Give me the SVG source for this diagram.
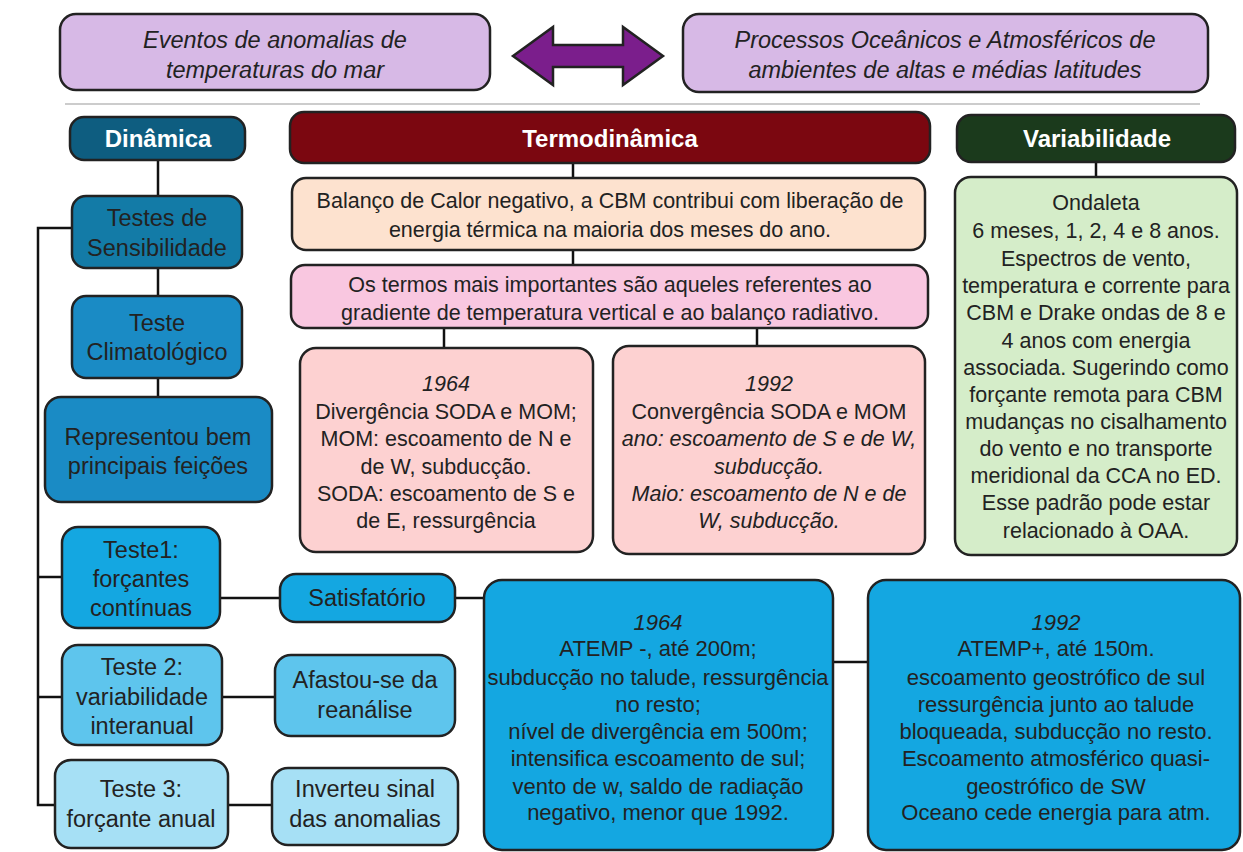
<svg xmlns="http://www.w3.org/2000/svg" width="1243" height="852" viewBox="0 0 1243 852">
<style>
.b{stroke:#222;stroke-width:2.5}
.t{font-family:"Liberation Sans",Arial,sans-serif;font-size:21.5px;fill:#222;text-anchor:middle}
.l{font-size:23.5px}
.k{font-size:22px}
.top{font-size:23.5px}
.i{font-style:italic}
.h{font-family:"Liberation Sans",Arial,sans-serif;font-size:24px;font-weight:bold;fill:#fff;text-anchor:middle}
.c{stroke:#111;stroke-width:2.5;fill:none}
</style>
<rect width="1243" height="852" fill="#fff"/>
<g id="connectors">
<line class="c" x1="65" y1="104" x2="1200" y2="104" style="stroke:#bbb;stroke-width:1.5"/>
<line class="c" x1="158" y1="160" x2="158" y2="196"/>
<line class="c" x1="158" y1="268" x2="158" y2="296"/>
<line class="c" x1="158" y1="378" x2="158" y2="397"/>
<polyline class="c" points="72,228 38,228 38,805 55,805"/>
<line class="c" x1="38" y1="577" x2="62" y2="577"/>
<line class="c" x1="38" y1="697" x2="62" y2="697"/>
<line class="c" x1="220" y1="598" x2="280" y2="598"/>
<line class="c" x1="455" y1="598" x2="485" y2="598"/>
<line class="c" x1="222" y1="697" x2="275" y2="697"/>
<line class="c" x1="228" y1="805" x2="272" y2="805"/>
<line class="c" x1="833" y1="662" x2="868" y2="662"/>
<line class="c" x1="573" y1="163" x2="573" y2="178"/>
<line class="c" x1="573" y1="250" x2="573" y2="265"/>
<line class="c" x1="444" y1="328" x2="444" y2="348"/>
<line class="c" x1="757" y1="328" x2="757" y2="347"/>
<line class="c" x1="1096" y1="162" x2="1096" y2="177"/>
</g>
<g id="n-eventos">
<rect class="b" x="60" y="14" width="430" height="76" rx="16" fill="#d7b9e6"/>
<text class="t top i" x="275" y="48">Eventos de anomalias de</text>
<text class="t top i" x="275" y="78">temperaturas do mar</text>
</g>
<g id="n-arrow">
<polygon class="b" points="513,56 553,27 553,45 623,45 623,27 663,56 623,85 623,67 553,67 553,85" fill="#7b1e8c" stroke-linejoin="miter"/>
</g>
<g id="n-processos">
<rect class="b" x="683" y="14" width="525" height="78" rx="16" fill="#d7b9e6"/>
<text class="t top i" x="945" y="48">Processos Oceânicos e Atmosféricos de</text>
<text class="t top i" x="945" y="78">ambientes de altas e médias latitudes</text>
</g>
<g id="n-dinamica">
<rect class="b" x="70" y="117" width="175" height="43" rx="14" fill="#0e5d80"/>
<text class="h" x="158" y="147">Dinâmica</text>
</g>
<g id="n-termo">
<rect class="b" x="290" y="112" width="640" height="51" rx="14" fill="#7b0710"/>
<text class="h" x="610" y="147">Termodinâmica</text>
</g>
<g id="n-var">
<rect class="b" x="957" y="115" width="278" height="47" rx="14" fill="#1b3a1c"/>
<text class="h" x="1097" y="147">Variabilidade</text>
</g>
<g id="n-sens">
<rect class="b" x="72" y="196" width="170" height="72" rx="14" fill="#137ba7"/>
<text class="t l" x="157" y="226">Testes de</text>
<text class="t l" x="157" y="256">Sensibilidade</text>
</g>
<g id="n-clim">
<rect class="b" x="72" y="296" width="170" height="82" rx="14" fill="#1a8bc5"/>
<text class="t l" x="157" y="331">Teste</text>
<text class="t l" x="157" y="360">Climatológico</text>
</g>
<g id="n-repr">
<rect class="b" x="45" y="397" width="227" height="105" rx="16" fill="#1a8bc5"/>
<text class="t l" x="158" y="445">Representou bem</text>
<text class="t l" x="158" y="474">principais feições</text>
</g>
<g id="n-t1">
<rect class="b" x="62" y="527" width="158" height="101" rx="16" fill="#14a7e1"/>
<text class="t l" x="141" y="558">Teste1:</text>
<text class="t l" x="141" y="587">forçantes</text>
<text class="t l" x="141" y="616">contínuas</text>
</g>
<g id="n-sat">
<rect class="b" x="280" y="574" width="175" height="48" rx="16" fill="#14a7e1"/>
<text class="t l" x="367" y="606">Satisfatório</text>
</g>
<g id="n-t2">
<rect class="b" x="62" y="645" width="160" height="100" rx="16" fill="#5ec5ed"/>
<text class="t l" x="142" y="675">Teste 2:</text>
<text class="t l" x="142" y="705">variabilidade</text>
<text class="t l" x="142" y="734">interanual</text>
</g>
<g id="n-afast">
<rect class="b" x="275" y="655" width="180" height="81" rx="16" fill="#5ec5ed"/>
<text class="t l" x="365" y="688">Afastou-se da</text>
<text class="t l" x="365" y="718">reanálise</text>
</g>
<g id="n-t3">
<rect class="b" x="55" y="760" width="173" height="88" rx="16" fill="#a6e0f5"/>
<text class="t l" x="141" y="797">Teste 3:</text>
<text class="t l" x="141" y="827">forçante anual</text>
</g>
<g id="n-inv">
<rect class="b" x="272" y="768" width="186" height="77" rx="16" fill="#a6e0f5"/>
<text class="t l" x="365" y="797">Inverteu sinal</text>
<text class="t l" x="365" y="827">das anomalias</text>
</g>
<g id="n-balanco">
<rect class="b" x="292" y="178" width="633" height="72" rx="14" fill="#fde2cf"/>
<text class="t" x="610" y="208">Balanço de Calor negativo, a CBM contribui com liberação de</text>
<text class="t" x="610" y="237">energia térmica na maioria dos meses do ano.</text>
</g>
<g id="n-termos">
<rect class="b" x="291" y="265" width="637" height="63" rx="14" fill="#f9c7e0"/>
<text class="t" x="610" y="292">Os termos mais importantes são aqueles referentes ao</text>
<text class="t" x="610" y="320">gradiente de temperatura vertical e ao balanço radiativo.</text>
</g>
<g id="n-m1964">
<rect class="b" x="300" y="348" width="293" height="204" rx="16" fill="#fdd1d1"/>
<text class="t i" x="446" y="391">1964</text>
<text class="t" x="446" y="419">Divergência SODA e MOM;</text>
<text class="t" x="446" y="446">MOM: escoamento de N e</text>
<text class="t" x="446" y="474">de W, subducção.</text>
<text class="t" x="446" y="501">SODA: escoamento de S e</text>
<text class="t" x="446" y="528">de E, ressurgência</text>
</g>
<g id="n-m1992">
<rect class="b" x="613" y="346" width="312" height="208" rx="16" fill="#fdd1d1"/>
<text class="t i" x="769" y="391">1992</text>
<text class="t" x="769" y="419">Convergência SODA e MOM</text>
<text class="t i" x="769" y="446">ano: escoamento de S e de W,</text>
<text class="t i" x="769" y="474">subducção.</text>
<text class="t i" x="769" y="501">Maio: escoamento de N e de</text>
<text class="t i" x="769" y="528">W, subducção.</text>
</g>
<g id="n-ondaleta">
<rect class="b" x="955" y="177" width="282" height="378" rx="16" fill="#d5edc9"/>
<text class="t" x="1096" y="210">Ondaleta</text>
<text class="t" x="1096" y="238">6 meses, 1, 2, 4 e 8 anos.</text>
<text class="t" x="1096" y="266">Espectros de vento,</text>
<text class="t" x="1096" y="293">temperatura e corrente para</text>
<text class="t" x="1096" y="320">CBM e Drake ondas de 8 e</text>
<text class="t" x="1096" y="348">4 anos com energia</text>
<text class="t" x="1096" y="375">associada. Sugerindo como</text>
<text class="t" x="1096" y="402">forçante remota para CBM</text>
<text class="t" x="1096" y="429">mudanças no cisalhamento</text>
<text class="t" x="1096" y="456">do vento e no transporte</text>
<text class="t" x="1096" y="483">meridional da CCA no ED.</text>
<text class="t" x="1096" y="510">Esse padrão pode estar</text>
<text class="t" x="1096" y="538">relacionado à OAA.</text>
</g>
<g id="n-b1964">
<rect class="b" x="484" y="580" width="349" height="270" rx="18" fill="#14a7e1"/>
<text class="t k i" x="658" y="630">1964</text>
<text class="t k" x="658" y="656">ATEMP -, até 200m;</text>
<text class="t k" x="658" y="685">subducção no talude, ressurgência</text>
<text class="t k" x="658" y="712">no resto;</text>
<text class="t k" x="658" y="739">nível de divergência em 500m;</text>
<text class="t k" x="658" y="766">intensifica escoamento de sul;</text>
<text class="t k" x="658" y="794">vento de w, saldo de radiação</text>
<text class="t k" x="658" y="820">negativo, menor que 1992.</text>
</g>
<g id="n-b1992">
<rect class="b" x="868" y="580" width="372" height="270" rx="18" fill="#14a7e1"/>
<text class="t k i" x="1056" y="630">1992</text>
<text class="t k" x="1056" y="656">ATEMP+, até 150m.</text>
<text class="t k" x="1056" y="685">escoamento geostrófico de sul</text>
<text class="t k" x="1056" y="712">ressurgência junto ao talude</text>
<text class="t k" x="1056" y="739">bloqueada, subducção no resto.</text>
<text class="t k" x="1056" y="766">Escoamento atmosférico quasi-</text>
<text class="t k" x="1056" y="794">geostrófico de SW</text>
<text class="t k" x="1056" y="820">Oceano cede energia para atm.</text>
</g>
</svg>
